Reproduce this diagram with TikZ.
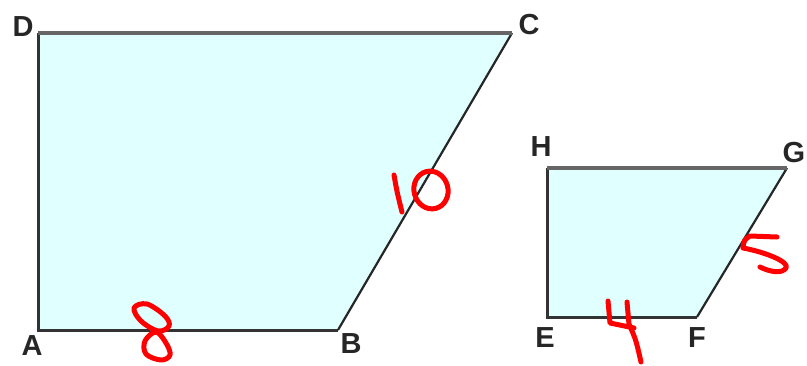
\documentclass[tikz,border=0pt]{standalone}
\usepackage{fontspec}
\setmainfont{Liberation Sans}
\begin{document}
\begin{tikzpicture}[x=1pt,y=-1pt,
  edge/.style={draw=black!80, line width=3pt, line join=miter},
  topedge/.style={draw=black!60, line width=3.5pt},
  slant/.style={draw=black!85, line width=2.2pt},
  lbl/.style={font=\fontsize{29}{29}\selectfont\bfseries, text=black!85, inner sep=0pt},
  ink/.style={draw=red, line width=5pt, line cap=round, line join=round}]
\useasboundingbox (0,0) rectangle (807,365);
% big trapezoid
\coordinate (A) at (38,330);
\coordinate (B) at (338,330);
\coordinate (C) at (512,33);
\coordinate (D) at (38,33);
\fill[fill={rgb,255:red,224;green,255;blue,255}] (A) -- (B) -- (C) -- (D) -- cycle;
\draw[edge] (D) -- (A) -- (B);
\draw[slant] (B) -- (C);
\draw[topedge] (D) -- (C);
% small trapezoid
\coordinate (E) at (547,317);
\coordinate (F) at (697,317);
\coordinate (G) at (787,168);
\coordinate (H) at (547,168);
\fill[fill={rgb,255:red,224;green,255;blue,255}] (E) -- (F) -- (G) -- (H) -- cycle;
\draw[edge] (H) -- (E) -- (F);
\draw[slant] (F) -- (G);
\draw[topedge] (H) -- (G);
% labels
\node[lbl] (lA) at (32,346) {A};
\node[lbl] (lB) at (351,344) {B};
\node[lbl] (lC) at (529,25) {C};
\node[lbl] (lD) at (23,27) {D};
\node[lbl] (lE) at (545,338) {E};
\node[lbl] (lF) at (697,338) {F};
\node[lbl] (lG) at (794,153) {G};
\node[lbl] (lH) at (541,147) {H};
% handwritten 8
\draw[ink] plot[smooth cycle, tension=0.6] coordinates {(134,308) (147,304) (165,316) (169,326) (158,331) (141,321)};
\draw[ink] plot[smooth cycle, tension=0.6] coordinates {(156,332) (145,341) (146,354) (161,360) (170,355) (166,343)};
% handwritten 10
\draw[ink] (394,175) .. controls (397,192) .. (402,212);
\draw[ink, rotate around={15:(431,190)}] (431,190) ellipse [x radius=17, y radius=19];
% handwritten 4
\draw[ink] (608,301) -- (610,323) -- (634,328);
\draw[ink] (627,302) -- (629,324) .. controls (636,340) .. (641,362);
% handwritten 5
\draw[ink] (777,237) -- (750,236) .. controls (744,240) .. (743,248) .. controls (765,252) and (790,262) .. (786,268) .. controls (782,274) and (770,272) .. (760,267);
\end{tikzpicture}
\end{document}
